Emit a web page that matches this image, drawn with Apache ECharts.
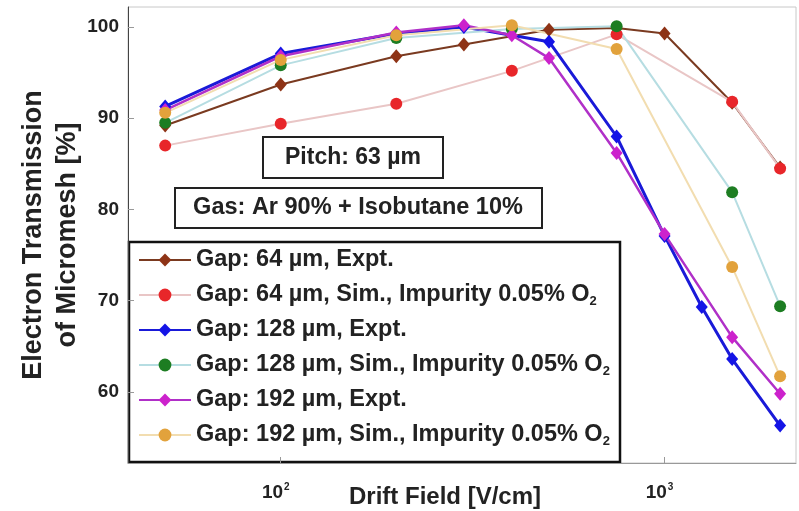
<!DOCTYPE html>
<html>
<head>
<meta charset="utf-8">
<script src="https://cdn.jsdelivr.net/npm/echarts@6/dist/echarts.min.js"></script>
<style>html,body{margin:0;padding:0;background:#fff;}#c{width:799px;height:511px;}</style>
</head>
<body>
<div id="c"></div>
<script>
// ---- data ----
const seriesNames = [
  'Gap: 64 µm, Expt.',
  'Gap: 64 µm, Sim., Impurity 0.05% O2',
  'Gap: 128 µm, Expt.',
  'Gap: 128 µm, Sim., Impurity 0.05% O2',
  'Gap: 192 µm, Expt.',
  'Gap: 192 µm, Sim., Impurity 0.05% O2'
];
const gap64ExptX = [50, 100, 200, 300, 500, 750, 1000, 1500, 2000];
const gap64ExptY = [89.2, 93.7, 96.8, 98.1, 99.7, 99.9, 99.3, 91.7, 84.6];
const simX = [50, 100, 200, 400, 750, 1500, 2000];
const gap64SimY = [87.0, 89.4, 91.6, 95.2, 99.2, 91.8, 84.5];
const gap128ExptX = [50, 100, 200, 300, 500, 750, 1000, 1250, 1500, 2000];
const gap128ExptY = [91.3, 97.1, 99.3, 100.0, 98.4, 88.0, 77.1, 69.3, 63.6, 56.3];
const gap128SimY = [89.5, 95.8, 98.8, 99.8, 100.1, 81.9, 69.4];
const gap192ExptX = [50, 100, 200, 300, 400, 500, 750, 1000, 1500, 2000];
const gap192ExptY = [90.9, 96.8, 99.4, 100.2, 99.1, 96.6, 86.2, 77.3, 66.0, 59.8];
const gap192SimY = [90.6, 96.4, 99.1, 100.2, 97.6, 73.7, 61.7];
const yTicks = [60, 70, 80, 90, 100];
const xTicks = [100, 1000];
const annotations = ['Pitch: 63 µm', 'Gas: Ar 90% + Isobutane 10%'];

const pairs = (xs, ys) => xs.map((x, i) => [x, ys[i]]);
const FONT = 'Liberation Sans';

function expt(name, xs, ys, color, lineColor, width) {
  return {
    name, type: 'line', data: pairs(xs, ys),
    symbol: 'diamond', symbolSize: [12, 14],
    itemStyle: { color: color },
    lineStyle: { color: lineColor, width: width },
    emphasis: { disabled: true }, animation: false
  };
}
function sim(name, xs, ys, color, lineColor) {
  return {
    name, type: 'line', data: pairs(xs, ys),
    symbol: 'circle', symbolSize: 12,
    itemStyle: { color: color },
    lineStyle: { color: lineColor, width: 2 },
    emphasis: { disabled: true }, animation: false
  };
}

const chart = echarts.init(document.getElementById('c'), null, { renderer: 'canvas' });
chart.setOption({
  animation: false,
  backgroundColor: '#fff',
  textStyle: { fontFamily: FONT },
  grid: { left: 128, right: 3, top: 7, bottom: 48, show: true, borderColor: '#c8c8c8', borderWidth: 1, containLabel: false, outerBoundsMode: 'none' },
  xAxis: {
    type: 'log', logBase: 10, min: 40, max: 2200,
    name: 'Drift Field [V/cm]', nameLocation: 'middle', nameGap: 22, nameMoveOverlap: false,
    nameTextStyle: { fontFamily: FONT, fontWeight: 'bold', fontSize: 24, color: '#222', padding: [0, 34, 0, 0] },
    axisLine: { show: true, lineStyle: { color: '#999', width: 1 } },
    axisTick: { show: true, inside: true, length: 6, customValues: xTicks, lineStyle: { color: '#999' } },
    axisLabel: {
      customValues: xTicks, margin: 19,
      formatter: v => '{b|10}{s|' + Math.round(Math.log10(v)) + '}',
      rich: {
        b: { fontFamily: FONT, fontWeight: 'bold', fontSize: 19, color: '#222', padding: [0, 0, 0, 0] },
        s: { fontFamily: FONT, fontWeight: 'bold', fontSize: 10, color: '#222', verticalAlign: 'top', padding: [0, 10, 12, 1] }
      }
    },
    splitLine: { show: false }
  },
  yAxis: {
    type: 'value', min: 52.2, max: 102.2,
    name: 'Electron Transmission\nof Micromesh [%]', nameLocation: 'middle', nameGap: 43, nameMoveOverlap: false,
    nameTextStyle: { fontFamily: FONT, fontWeight: 'bold', fontSize: 27, color: '#222', lineHeight: 34 },
    axisLine: { show: true, lineStyle: { color: '#444', width: 1 } },
    axisTick: { show: true, inside: true, length: 6, customValues: yTicks, lineStyle: { color: '#999' } },
    axisLabel: { customValues: yTicks, margin: 9, fontFamily: FONT, fontWeight: 'bold', fontSize: 19, color: '#222' },
    splitLine: { show: false }
  },
  legend: {
    orient: 'vertical', left: 138, top: 247, padding: 0,
    itemWidth: 52, itemHeight: 16, itemGap: 9,
    data: seriesNames,
    formatter: n => n.replace(/O2$/, 'O{sub|2}'),
    textStyle: {
      fontFamily: FONT, fontWeight: 'bold', fontSize: 23.5, color: '#222', lineHeight: 26,
      rich: { sub: { fontFamily: FONT, fontWeight: 'bold', fontSize: 13, color: '#222', verticalAlign: 'bottom', padding: [10, 0, 0, 0], lineHeight: 26 } }
    }
  },
  graphic: [
    { type: 'rect', z: 0, shape: { x: 129, y: 242, width: 491, height: 220 }, style: { fill: '#fff', stroke: '#111', lineWidth: 2.5 } },
    { type: 'rect', z: 50, shape: { x: 263, y: 137, width: 180, height: 41 }, style: { fill: '#fff', stroke: '#222', lineWidth: 2 } },
    { type: 'text', z: 51, style: { text: annotations[0], x: 353, y: 158, align: 'center', verticalAlign: 'middle', font: 'bold 23px "Liberation Sans"', fill: '#222' } },
    { type: 'rect', z: 50, shape: { x: 175, y: 188, width: 367, height: 40 }, style: { fill: '#fff', stroke: '#222', lineWidth: 2 } },
    { type: 'text', z: 51, style: { text: annotations[1], x: 358, y: 208, align: 'center', verticalAlign: 'middle', font: 'bold 23.5px "Liberation Sans"', fill: '#222' } }
  ],
  series: [
    expt(seriesNames[0], gap64ExptX, gap64ExptY, '#8e3316', '#7a3a20', 2),
    sim(seriesNames[1], simX, gap64SimY, '#e8262a', '#e9c6c6'),
    expt(seriesNames[2], gap128ExptX, gap128ExptY, '#1414e6', '#1a1ad8', 3),
    sim(seriesNames[3], simX, gap128SimY, '#1d7d22', '#b6dde2'),
    expt(seriesNames[4], gap192ExptX, gap192ExptY, '#cc22cc', '#b030c8', 2.5),
    sim(seriesNames[5], simX, gap192SimY, '#e2a23c', '#f2ddb0')
  ]
});
</script>
</body>
</html>
